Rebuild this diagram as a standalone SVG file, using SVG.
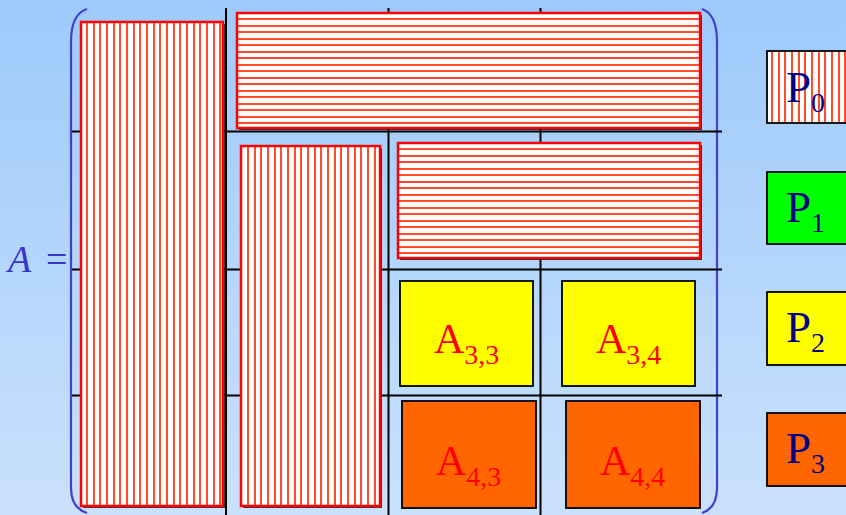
<svg xmlns="http://www.w3.org/2000/svg" width="846" height="515" viewBox="0 0 846 515">
  <defs>
    <linearGradient id="bg" x1="0" y1="0" x2="0" y2="1">
      <stop offset="0" stop-color="#9DCAFB"/>
      <stop offset="1" stop-color="#CAE1FC"/>
    </linearGradient>
    <style>
      .grid { stroke: #000000; stroke-width: 2; fill: none; }
      .bracket { stroke: #4040CC; stroke-width: 2.2; fill: none; }
      .paper { fill: #FFFFFF; }
      .stripe { stroke: #FF4D2E; stroke-width: 2; fill: none; }
      .redge { fill: none; stroke: #FF0000; stroke-width: 2.5; }
      .shadow { fill: #000000; opacity: 0.75; }
      .blk { stroke: #000000; stroke-width: 1.8; }
      .noF { fill: none; }
      .yel { fill: #FFFF00; }
      .org { fill: #FF6600; }
      .grn { fill: #00FF00; }
      .atxt { font-family: "Liberation Serif", "Times New Roman", serif; font-size: 42px; fill: #FF0000; }
      .ptxt { font-family: "Liberation Serif", "Times New Roman", serif; font-size: 45px; fill: #000080; }
      .sub { font-size: 28px; }
      .psub { font-size: 28px; }
      .lbl { font-family: "Liberation Serif", "Times New Roman", serif; font-size: 38px; fill: #3535CC; }
    </style>
  </defs>

  <rect width="846" height="515" fill="url(#bg)"/>

  <g id="brackets">
    <path class="bracket" d="M87,9 Q71,14 71,42 L71,488 Q71,508 87,513"/>
    <path class="bracket" d="M702,9 Q717,14 717,42 L717,488 Q717,508 702,513"/>
  </g>

  <g id="grid">
    <line class="grid" x1="226" y1="8" x2="226" y2="515"/>
    <line class="grid" x1="388.5" y1="8" x2="388.5" y2="515"/>
    <line class="grid" x1="540.5" y1="8" x2="540.5" y2="515"/>
    <line class="grid" x1="72" y1="131.5" x2="722" y2="131.5"/>
    <line class="grid" x1="72" y1="269.5" x2="722" y2="269.5"/>
    <line class="grid" x1="72" y1="395.5" x2="722" y2="395.5"/>
  </g>

  <g id="label-A">
    <text class="lbl" x="8" y="272" font-style="italic">A</text>
    <text class="lbl" x="46" y="272">=</text>
  </g>

  <g id="block-col1">
    <rect class="shadow" x="83" y="24" width="142" height="484"/>
    <rect class="paper" x="81" y="22" width="142" height="484"/>
    <path class="stripe" d="M87,23V505M94,23V505M100,23V505M107,23V505M114,23V505M120,23V505M127,23V505M134,23V505M140,23V505M147,23V505M154,23V505M160,23V505M167,23V505M174,23V505M180,23V505M187,23V505M194,23V505M200,23V505M207,23V505M214,23V505M220,23V505"/>
    <rect class="redge" x="81" y="22" width="142" height="484"/>
  </g>
  <g id="block-row1">
    <rect class="shadow" x="239" y="15" width="463" height="115"/>
    <rect class="paper" x="237" y="13" width="463" height="115"/>
    <path class="stripe" d="M238,19H699M238,26H699M238,32H699M238,39H699M238,45H699M238,52H699M238,58H699M238,65H699M238,71H699M238,78H699M238,84H699M238,91H699M238,97H699M238,104H699M238,110H699M238,117H699M238,123H699"/>
    <rect class="redge" x="237" y="13" width="463" height="115"/>
  </g>
  <g id="block-col2">
    <rect class="shadow" x="243" y="148" width="139" height="360"/>
    <rect class="paper" x="241" y="146" width="139" height="360"/>
    <path class="stripe" d="M248,147V505M255,147V505M261,147V505M268,147V505M275,147V505M281,147V505M288,147V505M295,147V505M301,147V505M308,147V505M315,147V505M321,147V505M328,147V505M335,147V505M341,147V505M348,147V505M355,147V505M361,147V505M368,147V505M375,147V505"/>
    <rect class="redge" x="241" y="146" width="139" height="360"/>
  </g>
  <g id="block-row2">
    <rect class="shadow" x="400" y="145" width="302" height="115"/>
    <rect class="paper" x="398" y="143" width="302" height="115"/>
    <path class="stripe" d="M399,149H699M399,156H699M399,162H699M399,169H699M399,175H699M399,182H699M399,188H699M399,195H699M399,201H699M399,208H699M399,214H699M399,221H699M399,227H699M399,234H699M399,240H699M399,247H699M399,253H699"/>
    <rect class="redge" x="398" y="143" width="302" height="115"/>
  </g>

  <g id="A33">
    <rect class="yel blk" x="400" y="281" width="133" height="105"/>
    <text class="atxt" x="434" y="353">A<tspan class="sub" dy="11">3,3</tspan></text>
  </g>
  <g id="A34">
    <rect class="yel blk" x="562" y="281" width="133" height="105"/>
    <text class="atxt" x="596" y="353">A<tspan class="sub" dy="11">3,4</tspan></text>
  </g>
  <g id="A43">
    <rect class="org blk" x="402" y="401" width="134" height="107"/>
    <text class="atxt" x="436" y="475">A<tspan class="sub" dy="11">4,3</tspan></text>
  </g>
  <g id="A44">
    <rect class="org blk" x="566" y="401" width="134" height="107"/>
    <text class="atxt" x="600" y="475">A<tspan class="sub" dy="11">4,4</tspan></text>
  </g>

  <g id="P0">
    <rect class="paper" x="767" y="51" width="82" height="72"/>
    <path class="stripe" d="M772,52V122M779,52V122M785,52V122M792,52V122M799,52V122M805,52V122M812,52V122M819,52V122M825,52V122M832,52V122M839,52V122M845,52V122"/>
    <rect class="noF blk" x="767" y="51" width="82" height="72"/>
    <text class="ptxt" x="786" y="102">P<tspan class="psub" dy="10">0</tspan></text>
  </g>
  <g id="P1">
    <rect class="grn blk" x="767" y="172" width="82" height="72"/>
    <text class="ptxt" x="786" y="222">P<tspan class="psub" dy="10">1</tspan></text>
  </g>
  <g id="P2">
    <rect class="yel blk" x="767" y="292" width="82" height="73"/>
    <text class="ptxt" x="786" y="342">P<tspan class="psub" dy="10">2</tspan></text>
  </g>
  <g id="P3">
    <rect class="org blk" x="767" y="413" width="82" height="73"/>
    <text class="ptxt" x="786" y="463">P<tspan class="psub" dy="10">3</tspan></text>
  </g>
</svg>
